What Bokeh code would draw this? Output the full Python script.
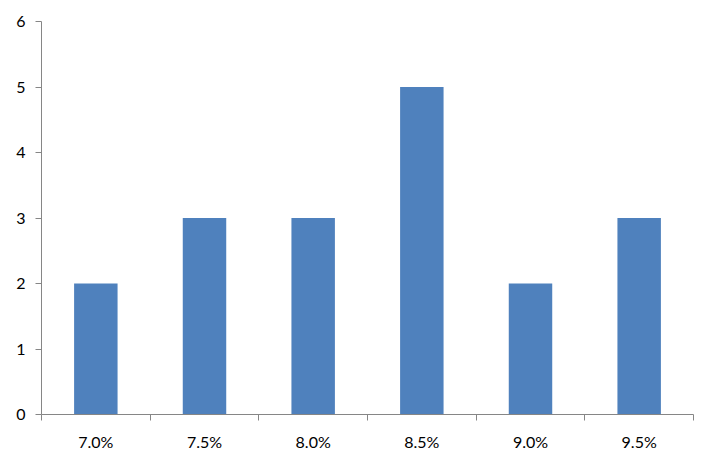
from bokeh.plotting import figure
from bokeh.models import FixedTicker, Range1d, ColumnDataSource
from bokeh.embed import file_html
from bokeh.resources import INLINE

categories = ["7.0%", "7.5%", "8.0%", "8.5%", "9.0%", "9.5%"]
counts = [2, 3, 3, 5, 2, 3]
y_ticks = [0, 1, 2, 3, 4, 5, 6]

xpos = [i + 0.5 for i in range(len(categories))]
src = ColumnDataSource(dict(x=xpos, top=counts))

p = figure(frame_width=652, frame_height=393, output_backend="svg", toolbar_location=None,
           x_range=Range1d(0, len(categories)), y_range=Range1d(0, 6),
           min_border_left=41, min_border_top=21, min_border_right=10, min_border_bottom=30)
p.vbar(x="x", top="top", width=0.4, source=src, fill_color="#4F81BD", line_color=None)

p.xgrid.visible = False
p.ygrid.visible = False
p.outline_line_color = None

AX = "#868686"
p.xaxis.ticker = FixedTicker(ticks=xpos, minor_ticks=list(range(len(categories) + 1)))
p.xaxis.major_label_overrides = {x: c for x, c in zip(xpos, categories)}
p.xaxis.major_tick_line_color = None
p.xaxis.minor_tick_line_color = AX
p.xaxis.minor_tick_out = 6
p.xaxis.minor_tick_in = 0
p.xaxis.major_label_standoff = 11

p.yaxis.ticker = FixedTicker(ticks=y_ticks, minor_ticks=[])
p.yaxis.major_tick_out = 6
p.yaxis.major_tick_in = 0
p.yaxis.major_tick_line_color = AX
p.yaxis.major_label_standoff = 10

for ax in (p.xaxis, p.yaxis):
    ax.axis_line_color = AX
    ax.major_label_text_font = "Lato"
    ax.major_label_text_font_size = "16px"
    ax.major_label_text_color = "#000000"

open("out.html", "w").write(file_html(p, INLINE))
